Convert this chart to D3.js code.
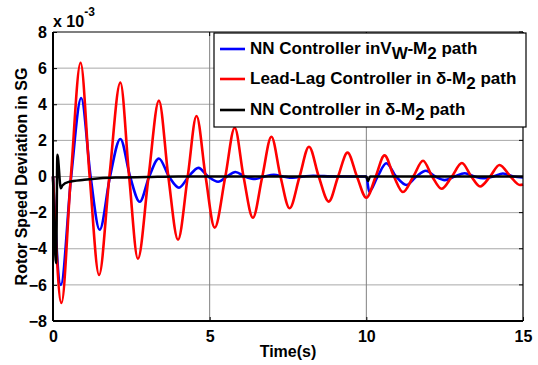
<!DOCTYPE html>
<html>
<head>
<meta charset="utf-8">
<script src="https://cdn.jsdelivr.net/npm/d3@7"></script>
<style>
  body { margin: 0; background: #fff; }
  text { font-family: Arial, "Liberation Sans", sans-serif; font-weight: bold; }
</style>
</head>
<body>
<div id="chart"></div>
<script>
// values (units of 1e-3)
const xTicks = [0, 5, 10, 15];
const yTicks = [-8, -6, -4, -2, 0, 2, 4, 6, 8];

// NN controller in Vw-M2 path
const blueT = [0, 0.25, 0.58, 0.9, 1.2, 1.49, 1.82, 2.15, 2.46, 2.77, 3.07, 3.38, 3.7, 4.02, 4.33, 4.64, 4.95, 5.27, 5.55, 5.82, 6.12, 6.45, 6.75, 7.05, 7.35, 7.65, 8.0, 8.3, 9.0, 10.0, 10.09, 10.36, 10.64, 10.95, 11.28, 11.6, 11.9, 12.2, 12.5, 12.82, 13.14, 13.45, 13.72, 14.05, 14.36, 14.7, 15];
const blueV = [0, -6.0, 0, 4.35, 0, -2.95, 0, 2.08, 0, -1.4, 0, 1.0, 0, -0.62, 0, 0.48, 0, -0.29, 0, 0.25, 0, -0.14, 0, 0.1, 0, -0.07, 0, 0.04, 0, 0, -0.84, 0, 0.73, 0, -0.47, 0, 0.32, 0, -0.2, 0, 0.18, 0, -0.1, 0, 0.17, 0, -0.05];

// Lead-lag controller in delta-M2 path
const redT = [0, 0.27, 0.57, 0.88, 1.17, 1.47, 1.8, 2.15, 2.43, 2.71, 3.05, 3.38, 3.68, 3.99, 4.3, 4.58, 4.87, 5.16, 5.5, 5.8, 6.08, 6.38, 6.68, 6.97, 7.26, 7.55, 7.87, 8.17, 8.48, 8.8, 9.1, 9.4, 9.7, 10.0, 10.3, 10.58, 10.88, 11.17, 11.5, 11.81, 12.1, 12.4, 12.73, 13.05, 13.35, 13.63, 13.95, 14.25, 14.6, 14.9, 15];
const redV = [0, -7.0, 0, 6.3, 0, -5.45, 0, 5.2, 0, -4.55, 0, 4.2, 0, -3.5, 0, 3.35, 0, -2.83, 0, 2.7, 0, -2.28, 0, 2.2, 0, -1.76, 0, 1.65, 0, -1.39, 0, 1.32, 0, -1.18, 0, 1.17, 0, -0.86, 0, 0.87, 0, -0.68, 0, 0.75, 0, -0.55, 0, 0.64, 0, -0.47, -0.44];

// NN controller in delta-M2 path
const blackT = [0, 0.1, 0.14, 0.25, 0.3, 0.5, 1.0, 1.5, 2.0, 3.0, 4.0, 10.0, 10.05, 10.12, 15];
const blackV = [0, -4.8, 1.2, -0.65, -0.5, -0.3, -0.18, -0.1, -0.06, -0.03, 0, 0, -0.25, 0, 0];

const seriesNames = ["NN Controller in", "Lead-Lag Controller in ", "NN Controller in "];
const seriesColors = ["#0000ff", "#ff0000", "#000000"];

let width = 538, height = 365;
let margin = { top: 32, right: 15, bottom: 44, left: 53 };
let w = width - margin.left - margin.right;
let h = height - margin.top - margin.bottom;

let svg = d3.select("#chart").append("svg")
  .attr("width", width)
  .attr("height", height);

let g = svg.append("g")
  .attr("transform", `translate(${margin.left}, ${margin.top})`);

let x = d3.scaleLinear().domain([0, 15]).range([0, w]);
let y = d3.scaleLinear().domain([-8, 8]).range([h, 0]);

// grid
g.selectAll(".hgrid")
  .data(yTicks.filter(d => d > -8 && d < 8))
  .enter().append("line")
  .attr("x1", 0).attr("x2", w)
  .attr("y1", d => y(d)).attr("y2", d => y(d))
  .attr("stroke", "#a8a8a8").attr("stroke-width", 1);

g.selectAll(".vgrid")
  .data(xTicks.filter(d => d > 0 && d < 15))
  .enter().append("line")
  .attr("x1", d => x(d)).attr("x2", d => x(d))
  .attr("y1", 0).attr("y2", h)
  .attr("stroke", "#808080").attr("stroke-width", 1);

// axes
let xAxis = d3.axisBottom(x).tickValues(xTicks).tickSize(-4).tickPadding(10);
let yAxis = d3.axisLeft(y).tickValues(yTicks).tickSize(-4).tickPadding(6);

g.append("g").attr("transform", `translate(0, ${h})`).call(xAxis)
  .call(a => a.select(".domain").remove())
  .selectAll("text").style("font-size", "16px").attr("fill", "#000");

g.append("g").call(yAxis)
  .call(a => a.select(".domain").remove())
  .selectAll("text").style("font-size", "16px").attr("fill", "#000");

// right/top inner ticks
g.selectAll(".rtick").data(yTicks).enter().append("line")
  .attr("x1", w).attr("x2", w - 4)
  .attr("y1", d => y(d)).attr("y2", d => y(d))
  .attr("stroke", "#000");
g.selectAll(".ttick").data(xTicks).enter().append("line")
  .attr("x1", d => x(d)).attr("x2", d => x(d))
  .attr("y1", 0).attr("y2", 4)
  .attr("stroke", "#000");

// lines
let line = d3.line()
  .x(d => x(d[0]))
  .y(d => y(d[1]))
  .curve(d3.curveMonotoneX);

let series = [
  d3.zip(blueT, blueV),
  d3.zip(redT, redV),
  d3.zip(blackT, blackV)
];

g.selectAll(".series")
  .data(series)
  .enter().append("path")
  .attr("class", "series")
  .attr("d", line)
  .attr("fill", "none")
  .attr("stroke", (d, i) => seriesColors[i])
  .attr("stroke-width", (d, i) => i === 2 ? 2.5 : 2.6)
  .attr("stroke-linejoin", "round");

// box
g.append("line").attr("x1", 0).attr("x2", w).attr("y1", 0).attr("y2", 0).attr("stroke", "#000").attr("stroke-width", 1.2);
g.append("line").attr("x1", w).attr("x2", w).attr("y1", 0).attr("y2", h).attr("stroke", "#000").attr("stroke-width", 1.2);
g.append("line").attr("x1", 0).attr("x2", 0).attr("y1", 0).attr("y2", h).attr("stroke", "#000").attr("stroke-width", 2);
g.append("line").attr("x1", 0).attr("x2", w).attr("y1", h).attr("y2", h).attr("stroke", "#000").attr("stroke-width", 2);

// exponent label
let expo = svg.append("text")
  .attr("x", margin.left)
  .attr("y", 27)
  .style("font-size", "16px");
expo.append("tspan").text("x 10");
expo.append("tspan").attr("dy", -11).style("font-size", "12px").text("-3");

// axis titles
svg.append("text")
  .attr("x", margin.left + w / 2)
  .attr("y", 357)
  .attr("text-anchor", "middle")
  .style("font-size", "16px")
  .text("Time(s)");

svg.append("text")
  .attr("transform", `translate(27, ${margin.top + h / 2}) rotate(-90)`)
  .attr("text-anchor", "middle")
  .style("font-size", "16px")
  .text("Rotor Speed Deviation in SG");

// legend
let legend = svg.append("g").attr("class", "legend");
legend.append("rect")
  .attr("x", 214).attr("y", 33)
  .attr("width", 312).attr("height", 94)
  .attr("fill", "#fff").attr("stroke", "#000").attr("stroke-width", 1.2);

let rowY = [49, 79, 110];
seriesColors.forEach((c, i) => {
  legend.append("line")
    .attr("x1", 220).attr("x2", 245)
    .attr("y1", rowY[i]).attr("y2", rowY[i])
    .attr("stroke", c).attr("stroke-width", 2.6);

  let t = legend.append("text")
    .attr("x", 250).attr("y", rowY[i] + 5)
    .style("font-size", "17px");
  t.append("tspan").text(seriesNames[i]);
  if (i === 0) {
    t.append("tspan").text("V");
    t.append("tspan").attr("dy", 5).text("W");
    t.append("tspan").attr("dy", -5).text("-M");
  } else {
    t.append("tspan").text("\u03b4-M");
  }
  t.append("tspan").attr("dy", 5).text("2");
  t.append("tspan").attr("dy", -5).text(" path");
});
</script>
</body>
</html>
